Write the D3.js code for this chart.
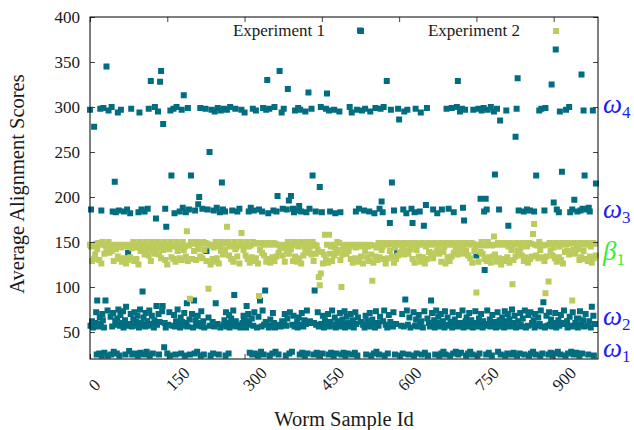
<!DOCTYPE html>
<html><head><meta charset="utf-8">
<script src="https://cdn.jsdelivr.net/npm/d3@7"></script>
<style>body{margin:0;background:#fff}</style>
</head><body>
<svg id="c" width="634" height="430"></svg>
<script>
// Experiment 1 scores, index = worm sample id (empty slot = sample not scored)
const exp1 = [
297,57,186,,62,,55,,278,,60,,72,25,85,,56,,26,66,
298,59,185,24,70,63,299,55,27,,85,,345,,74,24,296,,140,,
67,25,300,56,184,71,28,,217,62,183,58,26,65,294,75,185,24,57,69,
297,,60,,73,55,184,,63,25,78,57,186,,138,,29,59,182,70,
298,56,25,,64,,72,26,57,,61,,68,24,183,55,294,75,27,60,
186,58,95,,66,25,184,56,71,,28,62,187,57,298,74,24,,329,59,
68,,26,,55,63,300,,176,79,58,,295,70,25,61,328,,340,,
73,79,281,,33,60,187,55,167,,26,,58,,72,24,296,,224,,
57,,298,69,182,56,25,62,300,,75,,59,,184,55,66,26,297,61,
188,57,313,71,24,,183,60,82,56,299,,186,64,25,,224,,70,,
55,,85,26,185,63,57,,28,68,192,,200,60,299,24,73,56,187,,
62,25,55,,298,,140,,186,,66,,250,57,24,,297,,61,26,
185,56,295,,82,,188,59,299,,25,,183,55,296,,216,,186,58,
298,63,184,24,72,56,297,,60,26,69,55,300,,65,57,185,,74,59,
91,,298,62,56,,184,,58,,187,,55,,297,,60,,68,66,
294,,63,55,79,,58,70,184,61,27,,188,,65,25,298,57,185,72,
26,,296,,55,,24,67,186,,85,,28,56,184,74,299,25,58,,
96,61,297,,330,,182,55,298,24,64,,57,,26,71,185,60,300,55,
28,,184,,201,58,25,,340,,56,,294,62,187,,298,59,70,,
24,57,186,65,320,,196,26,72,,201,,28,58,187,68,183,56,296,,
185,,61,55,299,66,190,25,297,58,184,71,27,,56,,63,24,295,59,
183,74,26,,316,,187,62,60,,298,,224,,25,60,96,,184,58,
27,,72,,56,24,211,,300,59,183,26,68,,55,,63,,298,57,
315,,70,25,296,56,184,61,27,,74,,58,24,297,66,182,55,26,,
62,,57,,295,71,183,56,25,,64,59,27,,73,55,24,,67,58,
26,,60,56,300,,70,57,294,25,63,,55,,27,72,184,59,297,24,
66,,187,,385,,61,,296,,58,,185,55,298,68,25,,62,,
57,,184,71,295,56,24,,64,,59,26,182,55,299,73,28,,60,,
57,25,187,67,298,,195,,183,62,300,74,24,,58,,329,55,26,,
69,,171,61,297,,216,,56,72,185,,25,,59,,138,,298,,
286,,24,,57,,70,26,186,56,295,,86,,182,74,297,58,25,,
66,,55,,187,,171,,72,24,183,57,298,64,26,,56,,69,,
184,59,294,62,25,,55,,168,73,27,,191,,299,65,24,,60,,
56,,85,,71,58,186,,63,55,25,,74,57,182,,67,60,24,,
56,70,26,186,59,62,28,,55,73,25,,298,58,66,,187,,57,24,
61,,299,55,72,26,183,,64,58,28,,300,56,329,25,69,,295,60,
27,57,298,74,188,55,174,,297,62,24,66,58,,26,56,71,,28,59,
63,,25,55,297,,57,,73,,135,60,24,56,298,65,26,58,198,70,
296,,55,62,299,184,119,57,198,25,186,74,297,59,27,,64,56,300,,
24,69,58,,295,61,225,,55,,298,72,28,57,186,63,285,25,56,,
66,,59,,55,73,24,62,296,57,26,70,168,,64,,56,,25,75,
60,,27,57,68,,267,55,298,24,332,62,185,,26,71,58,,56,,
65,,184,25,74,,55,,186,,57,69,24,,185,72,26,,60,58,
28,63,184,55,70,25,224,,57,,66,,296,59,24,74,298,56,26,,
83,,185,55,299,,68,,57,,25,72,58,,27,64,325,56,24,,
194,60,26,71,364,55,186,,28,63,183,57,295,25,69,,228,,60,,
74,,59,24,297,,62,55,26,,300,67,183,57,28,,186,72,56,25,
197,,60,,27,65,184,55,65,,24,73,185,58,336,26,187,63,296,56,
224,,70,,186,,57,25,188,62,184,,55,,78,,296,68,24,,
59,,215
];
// Experiment 2 scores, scored every exp2Step-th sample id
const exp2Step = 2;
const exp2 = [
147,145,129,146,131,136,148,142,149,130,
148,126,150,147,137,146,141,144,150,138,
146,140,147,129,145,142,147,134,146,131,
144,128,147,132,146,126,145,130,147,133,
146,143,150,129,147,131,144,125,150,140,
147,142,145,136,150,141,147,135,144,129,
150,140,147,137,145,143,150,136,147,132,
145,141,150,130,147,125,144,142,150,133,
146,131,145,128,150,140,146,132,144,130,
150,141,145,134,162,129,146,87,150,131,
149,140,148,130,150,142,149,134,148,132,
150,141,149,129,148,98,146,125,147,131,
144,128,150,132,147,126,145,140,150,136,
149,141,148,167,150,135,145,131,146,128,
150,142,144,134,146,126,150,160,147,141,
146,135,150,131,145,127,146,133,150,129,
149,132,148,126,90,141,149,138,148,135,
147,128,149,131,148,127,147,133,149,129,
148,134,147,138,146,143,145,135,147,128,
146,140,150,137,147,142,146,129,150,134,
149,128,145,132,150,126,149,135,145,139,
150,142,149,138,145,136,150,129,147,137,
146,141,111,102,115,139,126,136,158,130,
147,127,158,137,145,129,147,135,144,138,
150,141,149,130,100,136,145,142,147,137,
146,140,145,131,147,127,146,132,144,130,
147,128,146,134,145,126,147,140,146,133,
145,129,147,136,107,127,146,134,144,130,
149,133,148,141,145,131,149,126,148,132,
147,140,149,134,148,127,144,131,149,135,
148,138,147,141,149,136,148,140,147,137,
149,142,148,131,147,127,149,141,148,134,
147,128,149,133,148,126,145,131,149,139,
148,136,147,132,149,138,148,140,144,137,
149,128,148,139,145,126,149,133,148,129,
147,134,149,138,148,142,147,136,149,139,
148,141,145,137,149,140,148,135,147,132,
149,127,148,140,145,94,147,128,146,139,
150,137,147,131,146,129,150,133,147,127,
146,134,156,136,147,128,149,132,148,125,
147,131,149,129,148,133,145,127,149,141,
103,130,147,134,149,140,148,139,144,135,
149,129,148,133,145,127,149,131,148,134,
159,170,147,135,146,132,150,141,147,133,
146,129,93,134,147,106,149,140,148,135,
144,132,149,128,148,133,145,130,149,126,
148,139,147,140,149,136,148,138,85,141,
149,137,148,142,145,130,149,133,148,140,
147,131,149,129,148,134,145,127,149,132,
148,135
];
const seriesNames = ["Experiment 1", "Experiment 2"];
const yTicks = [50, 100, 150, 200, 250, 300, 350, 400];
const xTicks = [0, 150, 300, 450, 600, 750, 900];
const xTitle = "Worm Sample Id";
const yTitle = "Average Alignment Scores";
const bandSymbols = ["ω", "ω", "β", "ω", "ω"];
const bandSubs = ["4", "3", "1", "2", "1"];
const bandLevels = [300, 183, 137, 64, 29];

const colors = ["#006d80", "#bccb5c"];
const bandColors = ["#1c1cf5", "#1c1cf5", "#33ee33", "#1c1cf5", "#1c1cf5"];
const FONT = '"Liberation Serif"';

const svg = d3.select("#c");
const L = 90, R = 598, T = 17, B = 359;
const x = d3.scaleLinear().domain([0, 986]).range([L, R]);
const y = d3.scaleLinear().domain([20, 400]).range([B, T]);
const S = 6;

// points: one path of square markers per series
const pts1 = [];
exp1.forEach((v, id) => { if (v !== undefined) pts1.push({ id, v }); });
const pts2 = exp2.map((v, k) => ({ id: k * exp2Step, v }));
[pts1, pts2].forEach((pts, si) => {
  const p = d3.path();
  pts.forEach(d => p.rect(x(d.id) - S / 2, y(d.v) - S / 2, S, S));
  svg.append("path").attr("d", p.toString()).attr("fill", colors[si]);
});

// axes (inward ticks, mirrored)
const axL = svg.append("g").attr("transform", `translate(${L},0)`)
  .call(d3.axisLeft(y).tickValues(yTicks).tickSizeInner(-5).tickSizeOuter(0).tickPadding(10));
const axR = svg.append("g").attr("transform", `translate(${R},0)`)
  .call(d3.axisRight(y).tickValues(yTicks).tickSizeInner(-5).tickSizeOuter(0).tickFormat(""));
const axB = svg.append("g").attr("transform", `translate(0,${B})`)
  .call(d3.axisBottom(x).tickValues(xTicks).tickSizeInner(-5).tickSizeOuter(0));
const axT = svg.append("g").attr("transform", `translate(0,${T})`)
  .call(d3.axisTop(x).tickValues(xTicks).tickSizeInner(-5).tickSizeOuter(0).tickFormat(""));
[axL, axR, axB, axT].forEach(g => {
  g.select(".domain").remove();
  g.selectAll(".tick line").attr("stroke", "#444");
  g.selectAll("text").style("font-family", FONT).style("font-size", "17px").attr("fill", "#1a1a1a");
});
axB.selectAll(".tick text")
  .attr("x", 0).attr("y", 0).attr("dy", 0)
  .attr("text-anchor", "start")
  .attr("transform", "translate(5,33) rotate(-45)");

// frame
svg.append("rect").attr("x", L).attr("y", T).attr("width", R - L).attr("height", B - T)
  .attr("fill", "none").attr("stroke", "#000").attr("stroke-width", 1);

// legend
const legX = [325, 520];
seriesNames.forEach((n, i) => {
  svg.append("text").attr("x", legX[i]).attr("y", 36).attr("text-anchor", "end")
    .style("font-family", FONT).style("font-size", "17px").attr("fill", "#1a1a1a").text(n);
  svg.append("rect").attr("x", legX[i] + 36 - S / 2).attr("y", 31 - S / 2)
    .attr("width", S).attr("height", S).attr("fill", colors[i]);
});

// titles
svg.append("text").attr("x", (L + R) / 2).attr("y", 426).attr("text-anchor", "middle")
  .style("font-family", FONT).style("font-size", "20.5px").attr("fill", "#1a1a1a").text(xTitle);
svg.append("text").attr("transform", "translate(24,184) rotate(-90)").attr("text-anchor", "middle")
  .style("font-family", FONT).style("font-size", "20.5px").attr("fill", "#1a1a1a").text(yTitle);

// band labels
bandLevels.forEach((v, i) => {
  const t = svg.append("text").attr("x", 603).attr("y", y(v) + 6)
    .style("font-family", FONT).attr("fill", bandColors[i]);
  t.append("tspan").style("font-style", "italic").style("font-size", "27px").text(bandSymbols[i]);
  t.append("tspan").style("font-size", "17px").attr("dy", 5).text(bandSubs[i]);
});
</script>
</body></html>
